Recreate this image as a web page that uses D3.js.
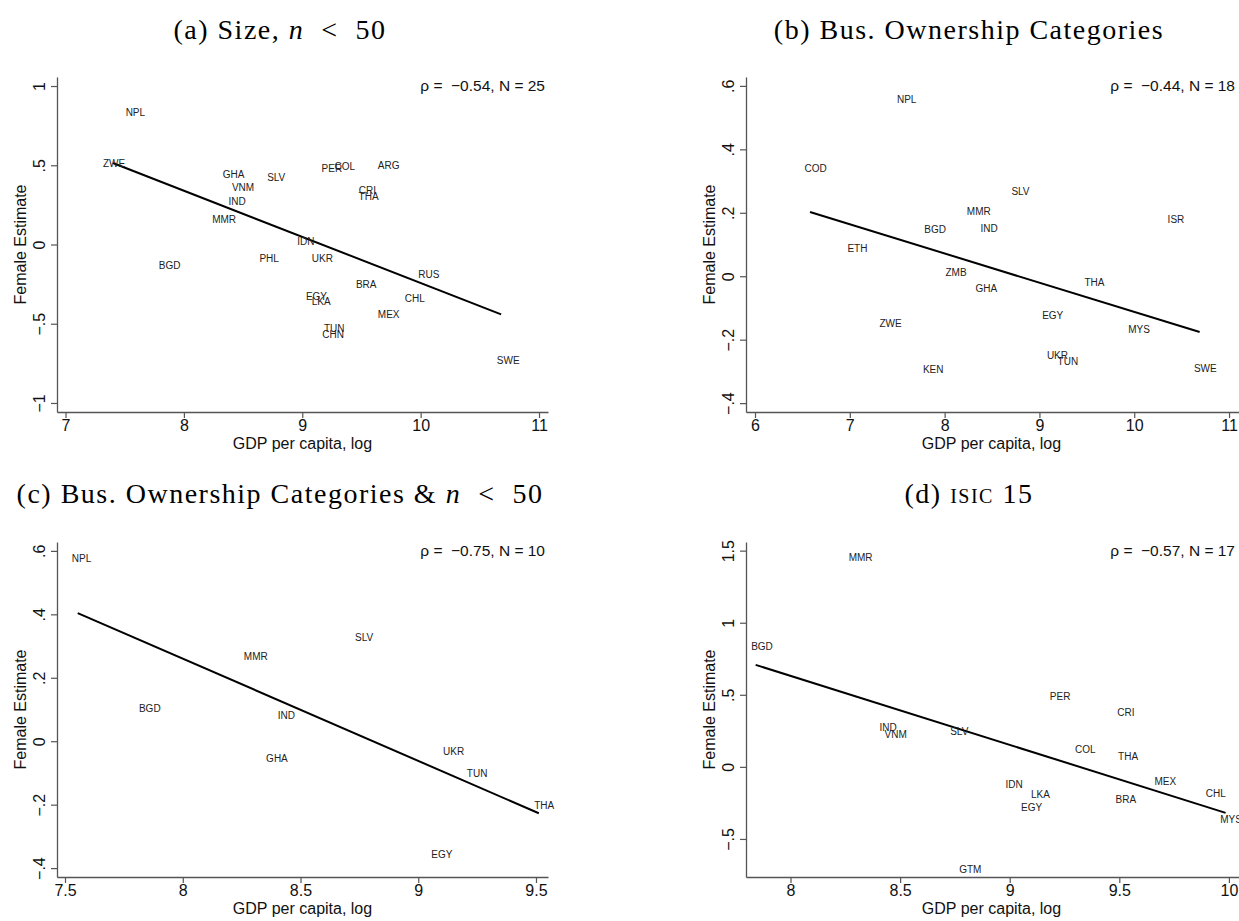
<!DOCTYPE html>
<html>
<head>
<meta charset="utf-8">
<script src="https://cdn.jsdelivr.net/npm/d3@7"></script>
<style>
  body { margin: 0; background: #fff; }
  svg { display: block; }
  .lab { font-family: "Liberation Sans", Arial, sans-serif; font-size: 10px; fill: #222; }
  .tick text { font-family: "Liberation Sans", Arial, sans-serif; font-size: 16px; fill: #111; }
  .atitle { font-family: "Liberation Sans", Arial, sans-serif; font-size: 16px; fill: #111; }
  .rho { font-family: "Liberation Sans", Arial, sans-serif; font-size: 15.5px; fill: #111; white-space: pre; }
  .ptitle { font-family: "Liberation Serif", "DejaVu Serif", serif; font-size: 28px; letter-spacing: 1.5px; fill: #000; white-space: pre; }
</style>
</head>
<body>
<div id="chart"></div>
<script>
// Panel (a): Size, n < 50
var aCodes = ["NPL","ZWE","GHA","SLV","VNM","IND","MMR","PER","COL","ARG","CRI","THA","IDN","PHL","UKR","BGD","RUS","BRA","EGY","LKA","CHL","MEX","TUN","CHN","SWE"];
var aGdp   = [7.59, 7.41, 8.42, 8.78, 8.50, 8.45, 8.34, 9.25, 9.36, 9.73, 9.55, 9.56, 9.03, 8.72, 9.17, 7.88, 10.07, 9.54, 9.12, 9.16, 9.95, 9.73, 9.27, 9.26, 10.74];
var aEst   = [0.83, 0.51, 0.44, 0.42, 0.36, 0.27, 0.16, 0.48, 0.49, 0.50, 0.34, 0.30, 0.02, -0.09, -0.09, -0.13, -0.19, -0.25, -0.33, -0.36, -0.34, -0.44, -0.53, -0.57, -0.73];
var aFitX  = [7.40, 10.68];
var aFitY  = [0.514, -0.441];

// Panel (b): Bus. Ownership Categories
var bCodes = ["NPL","COD","SLV","MMR","ISR","BGD","IND","ETH","ZMB","THA","GHA","EGY","ZWE","MYS","UKR","TUN","KEN","SWE"];
var bGdp   = [7.60, 6.64, 8.80, 8.36, 10.44, 7.90, 8.47, 7.08, 8.12, 9.58, 8.44, 9.14, 7.43, 10.05, 9.19, 9.30, 7.88, 10.75];
var bEst   = [0.557, 0.339, 0.268, 0.205, 0.179, 0.146, 0.150, 0.088, 0.013, -0.019, -0.038, -0.125, -0.148, -0.168, -0.249, -0.270, -0.295, -0.290];
var bFitX  = [6.58, 10.69];
var bFitY  = [0.2025, -0.176];

// Panel (c): Bus. Ownership Categories & n < 50
var cCodes = ["NPL","SLV","MMR","BGD","IND","GHA","UKR","TUN","THA","EGY"];
var cGdp   = [7.57, 8.77, 8.31, 7.86, 8.44, 8.40, 9.15, 9.25, 9.535, 9.10];
var cEst   = [0.575, 0.327, 0.267, 0.104, 0.081, -0.054, -0.033, -0.101, -0.203, -0.356];
var cFitX  = [7.554, 9.512];
var cFitY  = [0.404, -0.227];

// Panel (d): ISIC 15
var dCodes = ["MMR","BGD","PER","CRI","IND","VNM","SLV","COL","THA","IDN","LKA","EGY","BRA","MEX","CHL","MYS","GTM"];
var dGdp   = [8.32, 7.87, 9.23, 9.53, 8.445, 8.48, 8.77, 9.345, 9.54, 9.02, 9.14, 9.10, 9.53, 9.71, 9.94, 10.01, 8.82];
var dEst   = [1.45, 0.832, 0.488, 0.375, 0.273, 0.222, 0.247, 0.118, 0.072, -0.120, -0.192, -0.282, -0.227, -0.104, -0.185, -0.365, -0.712];
var dFitX  = [7.841, 9.985];
var dFitY  = [0.7075, -0.319];

// tick values and labels
var xTicksA = [7, 8, 9, 10, 11];
var yTicksA = [-1, -0.5, 0, 0.5, 1];
var xTicksB = [6, 7, 8, 9, 10, 11];
var yTicksBC = [-0.4, -0.2, 0, 0.2, 0.4, 0.6];
var xTicksC = [7.5, 8, 8.5, 9, 9.5];
var xTicksD = [8, 8.5, 9, 9.5, 10];
var yTicksD = [-0.5, 0, 0.5, 1, 1.5];
var rhoText = ["\u03c1 =  \u22120.54, N = 25", "\u03c1 =  \u22120.44, N = 18", "\u03c1 =  \u22120.75, N = 10", "\u03c1 =  \u22120.57, N = 17"];

var width = 1239, height = 921;

var svg = d3.select("#chart").append("svg")
    .attr("width", width)
    .attr("height", height);

// stata style numbers: .5, -.5 with a real minus
function stataFmt(v) {
    var s = String(Math.abs(v)).replace(/^0\./, ".");
    return (v < 0 ? "\u2212" : "") + s;
}

var panels = [
    { codes: aCodes, xs: aGdp, ys: aEst, fx: aFitX, fy: aFitY, xt: xTicksA, yt: yTicksA,
      box: [57, 548, 77, 412], xd: [6.928, 11.076], yd: [-1.057, 1.057], rho: rhoText[0], tx: 280, ty: 29, title: "a" },
    { codes: bCodes, xs: bGdp, ys: bEst, fx: bFitX, fy: bFitY, xt: xTicksB, yt: yTicksBC,
      box: [746, 1239, 77, 412], xd: [5.905, 11.105], yd: [-0.428, 0.628], rho: rhoText[1], tx: 969, ty: 29, title: "b" },
    { codes: cCodes, xs: cGdp, ys: cEst, fx: cFitX, fy: cFitY, xt: xTicksC, yt: yTicksBC,
      box: [57, 548, 542, 877], xd: [7.466, 9.551], yd: [-0.428, 0.628], rho: rhoText[2], tx: 280, ty: 493, title: "c" },
    { codes: dCodes, xs: dGdp, ys: dEst, fx: dFitX, fy: dFitY, xt: xTicksD, yt: yTicksD,
      box: [746, 1239, 542, 877], xd: [7.797, 10.046], yd: [-0.764, 1.56], rho: rhoText[3], tx: 969, ty: 493, title: "d" }
];

panels.forEach(function (p) {
    var L = p.box[0], R = p.box[1], T = p.box[2], B = p.box[3];
    var x = d3.scaleLinear().domain(p.xd).range([L, R]);
    var y = d3.scaleLinear().domain(p.yd).range([B, T]);

    var g = svg.append("g");

    // x axis
    var xAxis = g.append("g")
        .attr("transform", "translate(0," + B + ")")
        .call(d3.axisBottom(x).tickValues(p.xt).tickFormat(stataFmt).tickSize(6).tickPadding(2).tickSizeOuter(0));
    xAxis.select(".domain").attr("stroke", "#555").attr("stroke-width", 1.3);
    xAxis.selectAll(".tick line").attr("stroke", "#555").attr("stroke-width", 1.2);

    // y axis, labels turned like stata
    var yAxis = g.append("g")
        .attr("transform", "translate(" + L + ",0)")
        .call(d3.axisLeft(y).tickValues(p.yt).tickFormat(stataFmt).tickSize(6).tickSizeOuter(0));
    yAxis.select(".domain").attr("stroke", "#555").attr("stroke-width", 1.3);
    yAxis.selectAll(".tick line").attr("stroke", "#555").attr("stroke-width", 1.2);
    yAxis.selectAll(".tick text")
        .attr("x", null).attr("dy", null)
        .attr("text-anchor", "middle")
        .attr("transform", "translate(-18,0) rotate(-90)")
        .attr("dy", "0.35em");

    // axis titles
    g.append("text")
        .attr("class", "atitle")
        .attr("x", (L + Math.min(R, L + 491)) / 2)
        .attr("y", B + 37)
        .attr("text-anchor", "middle")
        .text("GDP per capita, log");

    g.append("text")
        .attr("class", "atitle")
        .attr("transform", "translate(" + (L - 37) + "," + ((T + B) / 2) + ") rotate(-90)")
        .attr("text-anchor", "middle")
        .attr("dy", "0.35em")
        .text("Female Estimate");

    // fitted line
    var line = d3.line().x(d => x(d[0])).y(d => y(d[1]));
    g.append("path")
        .datum(d3.zip(p.fx, p.fy))
        .attr("d", line)
        .attr("fill", "none")
        .attr("stroke", "#000")
        .attr("stroke-width", 2);

    // country labels
    g.selectAll(".lab")
        .data(d3.range(p.codes.length))
        .enter()
        .append("text")
        .attr("class", "lab")
        .attr("x", i => x(p.xs[i]))
        .attr("y", i => y(p.ys[i]))
        .attr("text-anchor", "middle")
        .attr("dy", "0.35em")
        .text(i => p.codes[i]);

    // correlation note
    g.append("text")
        .attr("class", "rho")
        .attr("x", p.box[1] === 1239 ? 1235 : 545)
        .attr("y", y(p.yt[p.yt.length - 1]))
        .attr("dy", "0.35em")
        .attr("text-anchor", "end")
        .text(p.rho);

    // panel title
    var t = svg.append("text")
        .attr("class", "ptitle")
        .attr("x", p.tx)
        .attr("y", p.ty)
        .attr("dy", "0.35em")
        .attr("text-anchor", "middle");
    if (p.title === "a") {
        t.append("tspan").text("(a) Size, ");
        t.append("tspan").style("font-style", "italic").text("n");
        t.append("tspan").text("  <  50");
    } else if (p.title === "b") {
        t.text("(b) Bus. Ownership Categories");
    } else if (p.title === "c") {
        t.append("tspan").text("(c) Bus. Ownership Categories & ");
        t.append("tspan").style("font-style", "italic").text("n");
        t.append("tspan").text("  <  50");
    } else {
        t.append("tspan").text("(d) ");
        t.append("tspan").style("font-variant", "small-caps").text("isic");
        t.append("tspan").text(" 15");
    }
});
</script>
</body>
</html>
